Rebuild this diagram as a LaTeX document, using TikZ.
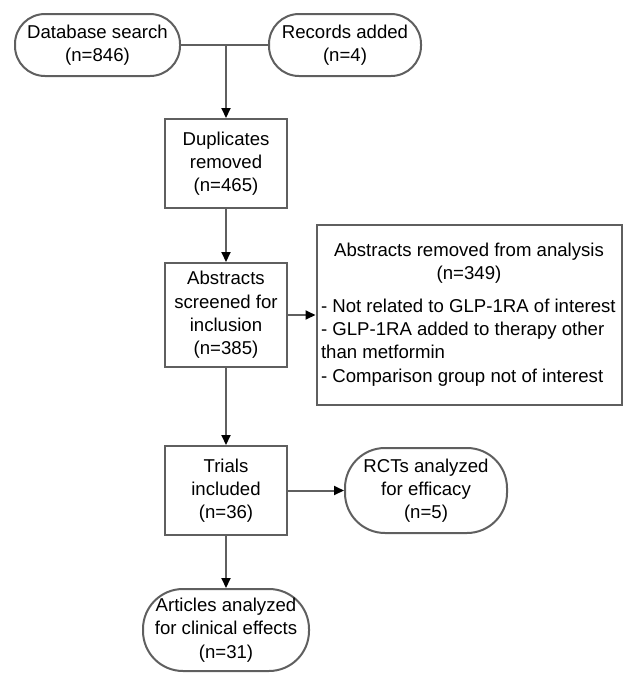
\documentclass[tikz,border=0pt]{standalone}
\usepackage{fontspec}
\setmainfont{Liberation Sans}
\usetikzlibrary{arrows.meta}
\definecolor{edgegray}{RGB}{95,95,95}
\tikzset{
  every node/.style={font=\fontsize{18.6}{23.3}\selectfont, text=black},
  pill/.style={draw=edgegray, line width=2pt, align=center, inner sep=0pt},
  sqbox/.style={draw=edgegray, line width=2pt, align=center, inner sep=0pt,
    minimum width=122pt},
  link/.style={draw=edgegray, line width=2pt},
  arrowlink/.style={link, -{Triangle[length=10pt,width=9pt,fill=black,color=black]}}
}
\begin{document}
\begin{tikzpicture}[x=1pt,y=-1pt]
\useasboundingbox (0,0) rectangle (623,673);
\node[pill, minimum width=165pt, minimum height=62pt, rounded corners=30pt] (db) at (97.5,45) {Database search\\(n=846)};
\node[pill, minimum width=152pt, minimum height=62pt, rounded corners=30pt] (rec) at (345,45) {Records added\\(n=4)};
\node[sqbox, minimum height=89pt] (dup) at (226,163.5) {Duplicates\\removed\\(n=465)};
\node[sqbox, minimum height=104pt] (scr) at (226,315) {Abstracts\\screened for\\inclusion\\(n=385)};
\node[draw=edgegray, line width=2pt, minimum width=305pt, minimum height=180pt, inner sep=0pt] (rem) at (469,314.5)
  {\parbox{296pt}{\centering Abstracts removed from analysis\\(n=349)\par\vspace{9pt}\raggedright
   - Not related to GLP-1RA of interest\\
   - GLP-1RA added to therapy other\\
   than metformin\\
   - Comparison group not of interest}};
\node[sqbox, minimum height=89pt] (tri) at (226,490.5) {Trials\\included\\(n=36)};
\node[pill, minimum width=162pt, minimum height=85pt, rounded corners=40pt] (rct) at (426,490.5) {RCTs analyzed\\for efficacy\\(n=5)};
\node[pill, minimum width=166pt, minimum height=82pt, rounded corners=40pt] (art) at (226,630) {Articles analyzed\\for clinical effects\\(n=31)};
\coordinate (j) at (226,45);
\draw[link] (db.east) -- (rec.west);
\draw[arrowlink] (j) -- (dup.north);
\draw[arrowlink] (dup.south) -- (scr.north);
\draw[arrowlink] (scr.east) -- (rem.west |- scr.east);
\draw[arrowlink] (scr.south) -- (tri.north);
\draw[arrowlink] (tri.east) -- (rct.west);
\draw[arrowlink] (tri.south) -- (art.north);
\end{tikzpicture}
\end{document}
